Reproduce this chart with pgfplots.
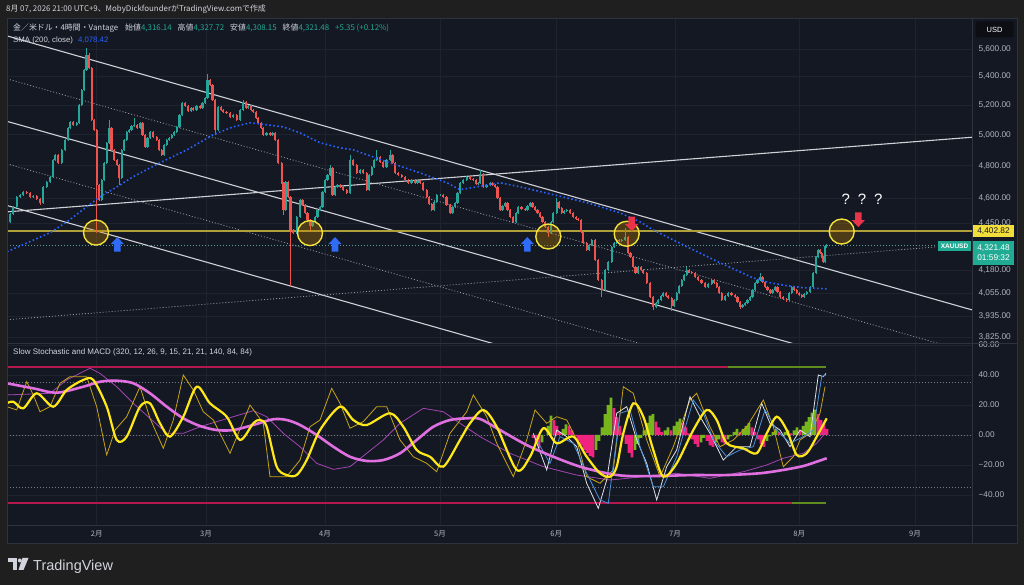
\documentclass[border=0pt]{standalone}
\usepackage{pgfplots}
\pgfplotsset{compat=1.18}
\usepackage{pgfplotstable}
\usepackage{fontspec}
\setmainfont{Liberation Sans}
\newfontfamily\jp{Noto Sans CJK JP}

\definecolor{outerbg}{HTML}{1F1F1F}
\definecolor{panelbg}{HTML}{141823}
\definecolor{gridc}{HTML}{1F2330}
\definecolor{framec}{HTML}{2E323D}
\definecolor{lbl}{HTML}{D1D4DC}
\definecolor{ticktxt}{HTML}{B2B5BE}
\definecolor{upc}{HTML}{26A69A}
\definecolor{dnc}{HTML}{EF5350}
\definecolor{tealbox}{HTML}{22AB94}
\definecolor{chanw}{HTML}{CFD1D6}
\definecolor{dotw}{HTML}{9598A1}
\definecolor{levely}{HTML}{B0A03A}
\definecolor{circley}{HTML}{F2E33A}
\definecolor{circfill}{HTML}{C88400}
\definecolor{smablue}{HTML}{2962FF}
\definecolor{arrowblue}{HTML}{2F6BF5}
\definecolor{arrowred}{HTML}{E8334A}
\definecolor{pricedot}{HTML}{5F9E96}
\definecolor{levbox}{HTML}{F2DE3A}
\definecolor{crim}{HTML}{B5174F}
\definecolor{oliveg}{HTML}{5E8C1C}
\definecolor{levdot}{HTML}{787B86}
\definecolor{orchidc}{HTML}{E070E0}
\definecolor{thinpur}{HTML}{A045B0}
\definecolor{thickyel}{HTML}{FFE81A}
\definecolor{thingold}{HTML}{C8A416}
\definecolor{whitel}{HTML}{DDE1E8}
\definecolor{bluel}{HTML}{4A90D9}
\definecolor{histg}{HTML}{76B51B}
\definecolor{histp}{HTML}{F0247E}
\definecolor{usdbg}{HTML}{0C0E14}

\pgfdeclareplotmark{tvup}{%
  \pgfpathmoveto{\pgfqpoint{0pt}{7.3pt}}%
  \pgfpathlineto{\pgfqpoint{6.6pt}{0.3pt}}%
  \pgfpathlineto{\pgfqpoint{3.3pt}{0.3pt}}%
  \pgfpathlineto{\pgfqpoint{3.3pt}{-7.3pt}}%
  \pgfpathlineto{\pgfqpoint{-3.3pt}{-7.3pt}}%
  \pgfpathlineto{\pgfqpoint{-3.3pt}{0.3pt}}%
  \pgfpathlineto{\pgfqpoint{-6.6pt}{0.3pt}}%
  \pgfpathclose
  \pgfusepathqfill}
\pgfdeclareplotmark{tvdown}{%
  \pgfpathmoveto{\pgfqpoint{0pt}{-7.3pt}}%
  \pgfpathlineto{\pgfqpoint{6.6pt}{-0.3pt}}%
  \pgfpathlineto{\pgfqpoint{3.3pt}{-0.3pt}}%
  \pgfpathlineto{\pgfqpoint{3.3pt}{7.3pt}}%
  \pgfpathlineto{\pgfqpoint{-3.3pt}{7.3pt}}%
  \pgfpathlineto{\pgfqpoint{-3.3pt}{-0.3pt}}%
  \pgfpathlineto{\pgfqpoint{-6.6pt}{-0.3pt}}%
  \pgfpathclose
  \pgfusepathqfill}

\pgfplotstableread{
x o h l c
7 4445 4463 4439 4457
10 4457 4510 4451 4504
13.3 4504 4552 4498 4546
16.7 4546 4613 4540 4607
20 4607 4626 4601 4620
23 4620 4645 4614 4638
26.7 4638 4644 4626 4632
30 4632 4638 4601 4607
33.3 4607 4619 4601 4613
36.7 4613 4619 4589 4595
40 4595 4601 4560 4571
43.3 4571 4674 4565 4668
46.7 4668 4705 4662 4699
50 4699 4736 4693 4730
53 4730 4844 4724 4838
55 4838 4876 4832 4870
58.3 4870 4876 4813 4819
61.7 4819 4908 4813 4902
65 4902 4973 4896 4967
68 4967 5052 4961 5046
70 5046 5095 5040 5087
73.3 5087 5093 5061 5067
76.7 5067 5087 5061 5080
79 5080 5210 5074 5202
81.7 5202 5315 5196 5307
84 5307 5457 5300 5449
86.5 5449 5610 5441 5558
89 5558 5570 5455 5463
91.7 5463 5470 5092 5100
94 5100 5108 5025 5033
96.7 5033 5040 4393 4680
99.3 4680 4688 4580 4589
101.7 4589 4718 4582 4711
104 4711 4826 4705 4819
106.7 4819 4955 4812 4948
109 4948 5100 4941 5046
111.5 5046 5053 4895 4902
114 4902 4909 4831 4838
117 4838 4845 4799 4806
119.3 4806 4813 4680 4724
121.7 4724 4909 4718 4902
124 4902 4974 4895 4967
126.7 4967 5027 4960 5020
129 5020 5040 5013 5033
131.5 5033 5067 5026 5060
134 5060 5114 5053 5067
137 5067 5074 5039 5046
140 5046 5087 5039 5080
142.5 5080 5087 4993 5000
145 5000 5007 4915 4922
147.5 4922 4987 4915 4980
150 4980 5027 4973 5020
153 5020 5027 4980 4987
156.7 4987 4994 4960 4967
159 4967 4974 4895 4902
161.7 4902 4909 4863 4870
164 4870 4942 4863 4935
166.7 4935 4974 4928 4967
169 4967 4987 4960 4980
171.7 4980 5007 4973 5000
174 5000 5027 4993 5020
176.7 5020 5060 5013 5053
179.5 5053 5141 5046 5134
182 5134 5223 5127 5216
185 5216 5223 5189 5196
188.3 5196 5203 5154 5161
191 5161 5189 5154 5182
193.3 5182 5189 5161 5168
196.5 5168 5203 5161 5196
200 5196 5203 5175 5182
202.5 5182 5223 5175 5216
205 5216 5258 5209 5251
207.5 5251 5420 5244 5377
210 5377 5385 5335 5342
212.5 5342 5349 5230 5237
215 5237 5244 5000 5033
218.3 5033 5196 5026 5189
221 5189 5196 5161 5168
223.3 5168 5175 5148 5155
226.5 5155 5162 5141 5148
230 5148 5155 5113 5120
233 5120 5141 5113 5134
236.7 5134 5141 5093 5100
240 5100 5175 5093 5168
243.3 5168 5237 5161 5223
246 5223 5230 5175 5182
248.3 5182 5203 5175 5196
251 5196 5203 5161 5168
253.3 5168 5175 5148 5155
256 5155 5162 5107 5114
258.3 5114 5121 5073 5080
261 5080 5087 5039 5046
263.3 5046 5053 4993 5000
266.5 5000 5020 4993 5013
270 5013 5020 4993 5000
272.5 5000 5020 4993 5013
275 5013 5020 4960 4967
278.3 4967 4974 4812 4819
281.7 4819 4826 4686 4693
283.5 4693 4700 4498 4528
285.5 4528 4706 4521 4699
288.3 4699 4706 4600 4607
290.5 4607 4614 4096 4410
293.3 4410 4417 4386 4393
296.7 4393 4494 4386 4487
300 4487 4596 4480 4589
302.5 4589 4596 4551 4558
305 4558 4565 4503 4510
307.5 4510 4517 4462 4469
310 4469 4476 4410 4434
312.5 4434 4464 4427 4457
315 4457 4494 4450 4487
317.5 4487 4535 4480 4528
320 4528 4553 4521 4546
322.5 4546 4645 4539 4638
325 4638 4718 4631 4711
327.5 4711 4750 4704 4743
330 4743 4806 4736 4787
332.5 4787 4794 4613 4620
335 4620 4675 4613 4668
337.5 4668 4687 4661 4680
340 4680 4687 4661 4668
343 4668 4675 4643 4650
346.7 4650 4657 4625 4632
350 4632 4870 4625 4838
353 4838 4845 4799 4806
356.7 4806 4813 4748 4755
360 4755 4781 4748 4774
363.3 4774 4781 4748 4755
366.7 4755 4762 4643 4650
369 4650 4750 4643 4743
371.7 4743 4800 4736 4793
374 4793 4845 4786 4838
376.7 4838 4902 4831 4857
380 4857 4864 4818 4825
383.3 4825 4832 4786 4793
386.5 4793 4845 4786 4838
390 4838 4902 4831 4870
392.5 4870 4877 4812 4819
395 4819 4826 4748 4755
398 4755 4762 4736 4743
401.7 4743 4750 4723 4730
405 4730 4737 4704 4711
408.3 4711 4718 4686 4693
411.5 4693 4718 4686 4711
415 4711 4718 4686 4693
417.5 4693 4712 4686 4705
420 4705 4712 4686 4693
423 4693 4700 4643 4650
426.7 4650 4657 4600 4607
429 4607 4614 4558 4565
431.7 4565 4572 4521 4528
434 4528 4584 4521 4577
436.7 4577 4627 4570 4620
440 4620 4627 4613 4620
443.3 4620 4627 4600 4607
446.5 4607 4614 4551 4558
450 4558 4565 4503 4510
452.5 4510 4553 4503 4546
455 4546 4578 4539 4571
457.5 4571 4639 4564 4632
460 4632 4700 4625 4693
463.3 4693 4718 4686 4711
466.7 4711 4737 4704 4730
470 4730 4737 4711 4718
473.3 4718 4725 4704 4711
476 4711 4718 4680 4687
478.3 4687 4700 4680 4693
480 4693 4774 4686 4749
483.3 4749 4756 4661 4668
486.5 4668 4687 4661 4680
490 4680 4700 4673 4693
492.5 4693 4700 4673 4680
495 4680 4687 4661 4668
497.5 4668 4675 4594 4601
500 4601 4608 4521 4528
502.5 4528 4559 4521 4552
505 4552 4578 4545 4571
507.5 4571 4578 4521 4528
510 4528 4535 4480 4487
513.3 4487 4494 4450 4457
516 4457 4517 4450 4510
518.3 4510 4553 4503 4546
521.5 4546 4553 4527 4534
525 4534 4541 4521 4528
527.5 4528 4559 4521 4552
530 4552 4578 4545 4571
532.5 4571 4578 4539 4546
535 4546 4553 4521 4528
537.5 4528 4535 4503 4510
540 4510 4517 4480 4487
542.5 4487 4494 4450 4457
545 4457 4464 4421 4428
548.3 4428 4435 4369 4393
551 4393 4464 4386 4457
553.3 4457 4517 4450 4510
556.7 4510 4601 4503 4577
559 4577 4584 4533 4540
561.7 4540 4547 4503 4510
564 4510 4529 4503 4522
566.7 4522 4535 4515 4528
570 4528 4535 4503 4510
573.3 4510 4517 4480 4487
576 4487 4494 4468 4475
578.3 4475 4482 4462 4469
581 4469 4476 4391 4398
583.3 4398 4405 4328 4335
586.7 4335 4342 4288 4295
589 4295 4330 4288 4323
591.7 4323 4359 4316 4352
595 4352 4359 4232 4239
598.3 4239 4246 4121 4128
601.7 4128 4135 4036 4074
605 4074 4190 4067 4183
608.3 4183 4235 4176 4228
611.7 4228 4319 4221 4312
614 4312 4342 4305 4335
616.7 4335 4359 4328 4352
619 4352 4359 4339 4346
621.7 4346 4359 4339 4352
625 4352 4422 4345 4369
628.3 4369 4376 4271 4278
630.5 4278 4285 4249 4256
633.3 4256 4263 4193 4200
635.5 4200 4207 4159 4166
638.3 4166 4207 4159 4200
641 4200 4207 4176 4183
643.3 4183 4190 4159 4166
646.7 4166 4173 4105 4112
650 4112 4119 4029 4036
653.3 4036 4043 3968 3984
656 3984 4011 3977 4004
658.3 4004 4027 3997 4020
661 4020 4049 4013 4042
663.3 4042 4065 4035 4058
666 4058 4065 4035 4042
668.3 4042 4049 4024 4031
671.7 4031 4038 3963 3989
674 3989 4027 3982 4020
676.7 4020 4065 4013 4058
679 4058 4103 4051 4096
681.7 4096 4135 4089 4128
684 4128 4163 4121 4156
686.7 4156 4200 4149 4183
689 4183 4190 4165 4172
691.7 4172 4179 4159 4166
695 4166 4173 4138 4145
698.3 4145 4152 4121 4128
701.5 4128 4135 4105 4112
705 4112 4119 4083 4090
708 4090 4113 4083 4106
711.7 4106 4135 4099 4128
714 4128 4135 4105 4112
716.7 4112 4119 4083 4090
719 4090 4097 4051 4058
721.7 4058 4065 4013 4020
725 4020 4049 4013 4042
728.3 4042 4065 4035 4058
731.5 4058 4065 4040 4047
735 4047 4054 4029 4036
737.5 4036 4043 4003 4010
740 4010 4017 3973 3984
742.5 3984 4001 3977 3994
745 3994 4011 3987 4004
747.5 4004 4027 3997 4020
750 4020 4043 4013 4036
752.5 4036 4081 4029 4074
755 4074 4119 4067 4112
757.5 4112 4135 4105 4128
760 4128 4166 4121 4145
762.5 4145 4152 4110 4117
765 4117 4124 4083 4090
767.5 4090 4097 4067 4074
770 4074 4081 4051 4058
772.5 4058 4081 4051 4074
775 4074 4097 4067 4090
777.5 4090 4097 4056 4063
780 4063 4070 4029 4036
783 4036 4043 4019 4026
786.7 4026 4033 4010 4020
789 4020 4065 4013 4058
791.7 4058 4097 4051 4090
794 4090 4097 4067 4074
796.7 4074 4081 4051 4058
799 4058 4065 4040 4047
801.7 4047 4054 4029 4036
804 4036 4059 4029 4052
806.7 4052 4070 4045 4063
810 4063 4097 4056 4090
813.3 4090 4173 4083 4166
816 4166 4263 4159 4256
818.3 4256 4302 4249 4295
820 4295 4302 4271 4278
821.7 4278 4285 4249 4256
823.3 4256 4263 4221 4228
825 4228 4322 4221 4316
826.7 4316.14 4327.72 4308.15 4321.48
}\candles

\begin{document}
\begin{tikzpicture}[x=1pt,y=1pt]
\fill[outerbg] (0,0) rectangle (1024,585);
\fill[panelbg] (7,42) rectangle (1017,567);

% ---------------- price panel: grid, scale, lines ----------------
\begin{axis}[
  at={(7pt,242pt)}, anchor=south west, scale only axis,
  width=965pt, height=325pt,
  xmin=7, xmax=972, ymode=log, ymin=3798, ymax=5836,
  axis line style={draw=none}, tick style={draw=none}, major tick length=0pt,
  /pgf/number format/assume math mode=true,
  xtick={96.7,206,325,440,556.3,675,799.3,915}, xticklabels={},
  ytick={3825,3935,4055,4180,4450,4600,4800,5000,5200,5400,5600},
  yticklabels={{3,825.00},{3,935.00},{4,055.00},{4,180.00},{4,450.00},{4,600.00},{4,800.00},{5,000.00},{5,200.00},{5,400.00},{5,600.00}},
  yticklabel pos=right,
  yticklabel style={anchor=west, xshift=3pt, text=ticktxt, font=\fontsize{8.3}{9}\selectfont},
  xmajorgrids, ymajorgrids, grid style={gridc, line width=0.7pt},
]
\addplot[chanw, line width=1.1pt] coordinates {(7,5699) (972,3968)};
\addplot[chanw, line width=1.1pt] coordinates {(7,5090) (972,3549)};
\addplot[chanw, line width=1.1pt] coordinates {(7,4554) (972,3170)};
\addplot[chanw, line width=1.1pt] coordinates {(7,4516) (972,4984)};
\addplot[dotw, line width=0.8pt, dash pattern=on 1pt off 2pt] coordinates {(7,5384) (972,3748)};
\addplot[dotw, line width=0.8pt, dash pattern=on 1pt off 2pt] coordinates {(7,4812) (972,3350)};
\addplot[dotw, line width=0.8pt, dash pattern=on 1pt off 2pt] coordinates {(7,3916) (937,4312)};
\addplot[pricedot, line width=0.7pt, dash pattern=on 1pt off 2pt] coordinates {(7,4321.48) (937,4321.48)};
\addplot[levely, line width=1.5pt] coordinates {(7,4402.82) (972,4402.82)};
\end{axis}

% ---------------- price panel: candles (linear axis in ln(price)) ----------------
\begin{axis}[
  at={(7pt,242pt)}, anchor=south west, scale only axis,
  width=965pt, height=325pt,
  xmin=7, xmax=972, ymin=8.24223, ymax=8.67180, hide axis,
]
\addplot[draw=none, restrict expr to domain={\thisrow{c}-\thisrow{o}}{0:100000},
  error bars/.cd, y dir=plus, y explicit, error mark=none,
  error bar style={draw=upc, line width=0.8pt}]
  table[x=x, y expr={ln(\thisrow{l})}, y error plus expr={ln(\thisrow{h})-ln(\thisrow{l})}] {\candles};
\addplot[draw=none, restrict expr to domain={\thisrow{c}-\thisrow{o}}{-100000:-0.001},
  error bars/.cd, y dir=plus, y explicit, error mark=none,
  error bar style={draw=dnc, line width=0.8pt}]
  table[x=x, y expr={ln(\thisrow{l})}, y error plus expr={ln(\thisrow{h})-ln(\thisrow{l})}] {\candles};
\addplot[draw=none, restrict expr to domain={\thisrow{c}-\thisrow{o}}{0:100000},
  error bars/.cd, y dir=plus, y explicit, error mark=none,
  error bar style={draw=upc, line width=2.1pt}]
  table[x=x, y expr={ln(\thisrow{o})}, y error plus expr={ln(\thisrow{c})-ln(\thisrow{o})}] {\candles};
\addplot[draw=none, restrict expr to domain={\thisrow{c}-\thisrow{o}}{-100000:-0.001},
  error bars/.cd, y dir=plus, y explicit, error mark=none,
  error bar style={draw=dnc, line width=2.1pt}]
  table[x=x, y expr={ln(\thisrow{c})}, y error plus expr={ln(\thisrow{o})-ln(\thisrow{c})}] {\candles};
\end{axis}

% ---------------- price panel: SMA, annotations ----------------
\begin{axis}[
  at={(7pt,242pt)}, anchor=south west, scale only axis,
  width=965pt, height=325pt,
  xmin=7, xmax=972, ymode=log, ymin=3798, ymax=5836, hide axis,
]
\addplot[smablue, line width=1.6pt, dash pattern=on 1.6pt off 2.4pt] coordinates {
(7,4284) (50,4393) (67,4457) (100,4607) (117,4668) (133,4730) (160,4819) (187,4902)
(213,5000) (233,5053) (250,5080) (267,5067) (283,5053) (300,5013) (320,4948) (340,4915)
(353,4902) (387,4825) (420,4755) (447,4693) (460,4650) (477,4668) (500,4693) (520,4668)
(553,4620) (587,4571) (620,4510) (640,4457) (653,4410) (687,4312) (720,4222) (753,4139)
(770,4112) (787,4096) (803,4085) (827,4079)};
\addplot[only marks, mark=*, mark size=12.5pt,
  mark options={draw=circley, line width=1.4pt, fill=circfill, fill opacity=0.32}]
  coordinates {(96,4394) (310,4391) (548.3,4371) (626.7,4387) (841.7,4400)};
\addplot[only marks, mark=tvup, color=arrowblue, mark options={fill=arrowblue}]
  coordinates {(117.3,4326) (335,4326) (527.3,4326)};
\addplot[only marks, mark=tvdown, color=arrowred, mark options={fill=arrowred}]
  coordinates {(631.7,4445) (858.3,4469)};
\node[text=white, font=\fontsize{15}{15}\selectfont] at (axis cs:862,4589) {?\hspace{8pt}?\hspace{8pt}?};
\end{axis}

% ---------------- oscillator panel ----------------
\begin{axis}[
  at={(7pt,60pt)}, anchor=south west, scale only axis,
  width=965pt, height=182pt,
  xmin=7, xmax=972, ymin=-60, ymax=61.333,
  axis line style={draw=none}, tick style={draw=none}, major tick length=0pt,
  /pgf/number format/assume math mode=true,
  xtick={96.7,206,325,440,556.3,675,799.3,915},
  xticklabels={2月,3月,4月,5月,6月,7月,8月,9月},
  xticklabel style={text=ticktxt, font=\jp\fontsize{7.5}{8}\selectfont, yshift=-2pt},
  ytick={-40,-20,0,20,40,60},
  yticklabels={−40.00,−20.00,0.00,20.00,40.00,60.00},
  yticklabel pos=right,
  yticklabel style={anchor=west, xshift=3pt, text=ticktxt, font=\fontsize{8.3}{9}\selectfont},
  xmajorgrids, ymajorgrids, grid style={gridc, line width=0.7pt},
]
\addplot[levdot, line width=0.7pt, dash pattern=on 1pt off 2pt] coordinates {(7,35) (972,35)};
\addplot[levdot, line width=0.7pt, dash pattern=on 1pt off 2pt] coordinates {(7,0) (972,0)};
\addplot[levdot, line width=0.7pt, dash pattern=on 1pt off 2pt] coordinates {(7,-35) (972,-35)};
\addplot[crim, line width=2pt] coordinates {(7,45.5) (728,45.5)};
\addplot[oliveg, line width=2pt] coordinates {(728,45.5) (826,45.5)};
\addplot[crim, line width=2pt] coordinates {(7,-45.5) (792,-45.5)};
\addplot[oliveg, line width=2pt] coordinates {(792,-45.5) (826,-45.5)};
\addplot[ybar, bar width=2.8pt, bar shift=0pt, fill=histg, draw=none] coordinates {
(542,-5) (548,6) (551,13) (563,4) (566,7) (596,-10) (599,-4) (602,5) (605,14) (608,20) (611,25)
(635,-10) (638,-6) (641,-2) (644,3) (647,8) (650,13) (653,14) (665,3) (668,5) (674,6) (677,9) (680,11)
(701,-5) (704,-2) (716,-5) (719,-3) (728,-3) (731,-1) (734,2) (737,4) (743,4) (746,6) (749,8)
(767,-4) (770,-1) (773,2) (776,4) (785,2) (788,3) (794,3) (797,5) (803,6) (806,9) (809,12) (812,15) (815,17)};
\addplot[ybar, bar width=2.8pt, bar shift=0pt, fill=histp, draw=none] coordinates {
(533,-2) (536,-6) (539,-9) (554,10) (557,6) (560,2) (569,6) (572,3) (575,-1) (578,-4) (581,-7) (584,-10)
(587,-12) (590,-14) (593,-15) (614,18) (617,12) (620,6) (623,1) (626,-6) (629,-12) (632,-15) (656,9) (659,5)
(662,2) (671,3) (683,8) (686,5) (689,1) (692,-3) (695,-6) (698,-8) (707,-4) (710,-7) (713,-8) (722,-5) (725,-6)
(740,2) (752,5) (755,2) (758,-3) (761,-6) (764,-8) (779,2) (791,1) (800,3) (818,14) (821,10) (824,7) (827,4)};
\addplot[thinpur, line width=0.8pt] coordinates {
(6.7,26.7) (50,27.8) (66.7,36.7) (90,44.5) (100,41.1) (116.7,32.2) (133.3,21.1) (150,11.1) (166.7,1.1)
(183.3,1.1) (200,5.5) (216.7,8.9) (233.3,12.2) (253.3,16.2) (266.7,12.2) (283.3,1.1) (300,-7.8) (316.7,-18.9)
(333.3,-22.9) (350,-21.1) (366.7,-12.2) (383.3,-3.3) (400,7.8) (423.3,17.8) (443.3,15.5) (460,7.8) (480,-1.1)
(510,-12.2) (543.3,-21.1) (576.7,-26.7) (610,-30) (643.3,-27.8) (676.7,-25.5) (710,-28.9) (743.3,-24.5)
(766.7,-20) (783.3,-15.5) (803.3,-12.2) (816.7,-5.5) (825,1.1)};
\addplot[thingold, line width=0.8pt] coordinates {
(6.7,18.9) (16.7,16.7) (26.7,35.5) (33.3,26.7) (40,15.5) (50,18.9) (60,34.5) (70,38.9) (86.7,38.9) (96.7,18.9)
(106.7,-13.3) (115,3.3) (126.7,12.2) (140,32.2) (150,11.1) (163.3,-8.9) (173.3,10) (183.3,40) (193.3,30)
(203.3,15.5) (213.3,10) (230,-12.2) (250,20) (263.3,7.8) (270,-27.8) (286.7,-27.8) (300,-16.7) (310,5.5)
(320,10) (331.7,31.1) (340,21.1) (350,4.5) (363.3,8.9) (376.7,18.9) (386.7,18.9) (400,-3.3) (413.3,-14.5)
(426.7,-18.9) (436.7,-24.5) (450,1.1) (466.7,15.5) (473.3,26.7) (486.7,12.2) (496.7,-5.5) (513.3,-27.8)
(526.7,-3.3) (535,16.7) (546.7,7.8) (556.7,12.2) (566.7,10) (576.7,-3.3) (586.7,-27.8) (600,-32.2)
(613.3,-23.3) (623.3,32.2) (633.3,27.8) (646.7,-3.3) (660,-27.8) (673.3,-7.8) (690,23.3) (696.7,27.8)
(710,5.5) (720,-7.8) (733.3,-3.3) (746.7,5.5) (763.3,23.3) (773.3,5.5) (783.3,-21.1) (793.3,-14.5)
(800,-3.3) (810,1.1) (820,14.5) (825,32.2)};
\addplot[whitel, line width=0.8pt] coordinates {
(533.3,1.1) (546.7,-23.3) (556.7,3.3) (566.7,-1.1) (576.7,-7.8) (586.7,-32.2) (598.3,-48.9) (606.7,-30)
(616.7,14.5) (626.7,18.9) (636.7,-3.3) (646.7,-18.9) (656.7,-43.3) (666.7,-21.1) (676.7,-10) (690,25.5)
(700,12.2) (710,1.1) (723.3,-16.7) (736.7,-7.8) (750,-7.8) (761.7,21.1) (770,7.8) (780,3.3) (790,-7.8)
(800,3.3) (810,-1.1) (818.3,40) (823.3,38.9) (826,41.1)};
\addplot[bluel, line width=0.8pt] coordinates {
(536.7,-3.3) (550,-18.9) (560,-1.1) (573.3,-5.5) (586.7,-25.5) (600,-43.3) (608.3,-45.5) (620,14.5)
(630,16.7) (640,-7.8) (653.3,-34.5) (663.3,-34.5) (676.7,-14.5) (693.3,23.3) (703.3,14.5) (713.3,-3.3)
(726.7,-14.5) (740,-10) (753.3,-7.8) (765,16.7) (776.7,3.3) (790,-5.5) (803.3,-1.1) (813.3,3.3)
(821.7,38.9) (826,40)};
\addplot[orchidc, line width=2.6pt, smooth] coordinates {
(6.7,34.5) (33.3,31.1) (56.7,28.2) (83.3,32.2) (100,35.5) (116.7,36.2) (133.3,34.5) (150,27.8) (166.7,18.9)
(183.3,11.1) (200,6) (216.7,3.3) (233.3,3.3) (253.3,6.7) (273.3,10.5) (286.7,10) (300,6.7) (316.7,0)
(333.3,-7.8) (350,-14.5) (366.7,-17.3) (383.3,-16.7) (400,-12.2) (416.7,-3.3) (433.3,5.5) (450,10)
(466.7,11.1) (480,10.7) (500,3.3) (526.7,-6.7) (553.3,-14.5) (580,-21.1) (606.7,-25.5) (626.7,-27.3)
(660,-27.3) (693.3,-26.7) (726.7,-26.7) (760,-25.5) (783.3,-23.3) (803.3,-20.7) (816.7,-17.8) (826.7,-15.5)};
\addplot[thickyel, line width=2.2pt, smooth] coordinates {
(6.7,21.1) (13.3,22.2) (23.3,17.8) (36.7,27.8) (53.3,18.9) (66.7,30) (83.3,36.7) (93.3,36.7) (106.7,18.9)
(116.7,-3.3) (126.7,-1.1) (140,18.9) (150,21.1) (160,7.8) (170,-1.1) (183.3,12.2) (196.7,32.2) (210,21.1)
(226.7,12.2) (240,-3.3) (253.3,7.8) (260,10) (266.7,5.5) (276.7,-21.1) (286.7,-26.7) (296.7,-26.7)
(306.7,-16.7) (320,3.3) (340,18.9) (353.3,10) (366.7,6.7) (390,14.5) (403.3,5.5) (416.7,-10) (430,-14.5)
(443.3,-21.1) (460,-3.3) (470,7.8) (483.3,16.7) (496.7,5.5) (516.7,-23.3) (530,-14.5) (543.3,4.5)
(556.7,-5.5) (573.3,-1.1) (586.7,-14.5) (600,-25.5) (610,-27.8) (616.7,-21.1) (623.3,1.1) (633.3,21.1)
(643.3,12.2) (653.3,-10) (663.3,-27.8) (676.7,-18.9) (693.3,3.3) (706.7,16.7) (716.7,10) (726.7,-5.5)
(743.3,-8.9) (756.7,-12.2) (766.7,1.1) (776.7,12.2) (786.7,3.3) (796.7,-13.3) (806.7,-12.2) (816.7,-1.1)
(826.7,11.1)};
\end{axis}

% frame lines
\draw[framec, line width=0.8pt] (7,42) rectangle (1017,567);
\draw[framec, line width=0.8pt] (972,42) -- (972,567);
\draw[framec, line width=0.8pt] (7,242) -- (1017,242);
\draw[framec, line width=0.8pt] (7,60) -- (1017,60);

% right side boxes
\node[fill=usdbg, rounded corners=2pt, minimum width=38pt, minimum height=16pt, inner sep=0pt,
  text=white, font=\fontsize{7.5}{8}\selectfont] at (994.5,555.5) {USD};
\node[fill=levbox, text=panelbg, minimum width=41pt, minimum height=12pt, inner sep=0pt,
  font=\fontsize{8.3}{9}\selectfont] at (993.5,353.5) {4,402.82};
\node[fill=tealbox, text=white, minimum width=41pt, minimum height=24pt, inner sep=0pt, align=center,
  font=\fontsize{8.3}{10}\selectfont] at (993.5,332) {4,321.48\\01:59:32};
\node[fill=tealbox, text=white, minimum width=33pt, minimum height=10pt, inner sep=0pt,
  font=\bfseries\fontsize{6.5}{7}\selectfont] at (954.5,338.5) {XAUUSD};

% header texts
\node[anchor=west, inner sep=0pt, text=lbl, font=\jp\fontsize{7.9}{9}\selectfont] at (6,575.5)
  {8月 07, 2026 21:00 UTC+9、MobyDickfounderがTradingView.comで作成};
\node[anchor=west, inner sep=0pt, text=lbl, font=\jp\fontsize{7.9}{9}\selectfont] at (13,556.5)
  {金／米ドル・4時間・Vantage\hspace{7pt}始値\textcolor{tealbox}{4,316.14}\hspace{6pt}高値\textcolor{tealbox}{4,327.72}\hspace{6pt}安値\textcolor{tealbox}{4,308.15}\hspace{6pt}終値\textcolor{tealbox}{4,321.48}\hspace{6pt}\textcolor{tealbox}{+5.35 (+0.12\%)}};
\node[anchor=west, inner sep=0pt, text=lbl, font=\fontsize{7.8}{9}\selectfont] at (13,545)
  {SMA (200, close)\hspace{5pt}\textcolor{smablue}{4,078.42}};
\node[anchor=west, inner sep=0pt, text=lbl, font=\fontsize{8}{9}\selectfont] at (13,232.5)
  {Slow Stochastic and MACD (320, 12, 26, 9, 15, 21, 21, 140, 84, 84)};

% TradingView logo
\fill[lbl] (8.3,27) rectangle (17,23);
\fill[lbl] (13,23) rectangle (17,15);
\fill[lbl] (19.8,24.5) circle (2);
\fill[lbl] (22.5,27) -- (28.5,27) -- (23.5,15) -- (18.5,15) -- cycle;
\node[anchor=base west, inner sep=0pt, text=lbl, font=\fontsize{14.5}{15}\selectfont] at (33,14) {TradingView};

\pgfresetboundingbox
\path[use as bounding box] (0,0) rectangle (1024,585);
\end{tikzpicture}
\end{document}
